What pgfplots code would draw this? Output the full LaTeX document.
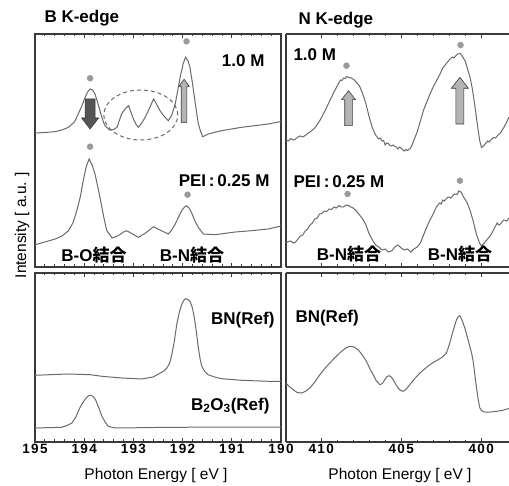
\documentclass[border=0pt]{standalone}
\usepackage{pgfplots}
\pgfplotsset{compat=1.18}
\usepackage{fontspec}
\setmainfont{Liberation Sans}
\newfontfamily\cjk{Noto Sans CJK JP}
\newfontfamily\tickfont[LetterSpace=10]{Liberation Sans}

\definecolor{curve}{HTML}{6A6A6A}
\definecolor{spine}{HTML}{3A3A3A}
\definecolor{dotc}{HTML}{9A9A9A}
\definecolor{darkarrow}{HTML}{555555}
\definecolor{lightarrow}{HTML}{B4B4B4}

\pgfplotsset{
  panel/.style={
    scale only axis, anchor=south west, x dir=reverse,
    ytick=\empty, ymin=0,
    axis line style={spine, line width=1.2pt},
    every tick/.style={spine, line width=0.8pt},
    major tick length=4pt, minor tick length=2.5pt, tick align=inside,
    xtick pos=both, xticklabel pos=lower,
    /pgf/number format/assume math mode=true,
    xticklabel style={font=\tickfont\fontsize{13.5}{15}\selectfont\bfseries, yshift=1pt},
    clip=true,
  },
  leftp/.style={panel, xmin=190, xmax=195, xtick={190,191,192,193,194,195}, minor x tick num=4, width=246pt},
  rightp/.style={panel, xmin=398.26, xmax=412.2, xtick={400,405,410}, minor x tick num=4, width=223pt,
    axis x line*=box, axis y line*=left},
  toprow/.style={height=233pt, ymax=233, xticklabels={}},
  botrow/.style={height=169pt, ymax=169},
  spec/.style={curve, line width=1pt, no marks},
  dots/.style={only marks, mark=*, mark size=3pt, dotc, mark options={draw=dotc, fill=dotc}},
}
\newcommand{\lab}{\fontsize{17}{20}\selectfont\bfseries}

\begin{document}
\begin{tikzpicture}
\path[use as bounding box] (0pt,0pt) rectangle (509pt,485pt);

% ---------- B K-edge, top ----------
\begin{axis}[leftp, toprow, at={(35pt,218pt)}]
\addplot[spec] coordinates {
(195.0,134) (194.8,134.5) (194.6,135.3) (194.45,137) (194.32,139.7) (194.2,145)
(194.12,153) (194.05,161) (193.98,169.7) (193.93,175) (193.88,178) (193.83,177)
(193.78,173) (193.73,165) (193.68,156.3) (193.63,148) (193.58,141.3) (193.48,137)
(193.40,137.5) (193.33,140) (193.24,153) (193.17,158) (193.10,161.3) (193.05,155)
(193.00,148) (192.95,143) (192.90,139.7) (192.83,144) (192.76,149.7) (192.68,158)
(192.59,168) (192.52,162) (192.46,156.3) (192.38,151) (192.29,146.3) (192.22,152)
(192.15,163) (192.10,176) (192.05,189.7) (191.99,203) (191.94,209.7) (191.89,206)
(191.85,199.7) (191.80,184) (191.75,166.3) (191.71,153) (191.68,143) (191.63,135)
(191.59,130.3) (191.48,133) (191.21,136.3) (190.80,139.7) (190.26,143) (190.0,145.5)
};
\addplot[spec] coordinates {
(195.0,22.3) (194.8,25) (194.59,28) (194.45,31) (194.32,36.3) (194.23,44)
(194.15,56.3) (194.08,70) (194.02,86.3) (193.96,100) (193.90,108) (193.84,102)
(193.78,93) (193.71,77) (193.64,59.7) (193.59,47) (193.54,36.3) (193.43,29)
(193.31,31.3) (193.20,35) (193.14,36.3) (193.04,33.7) (192.90,29.7) (192.76,33.7)
(192.65,38) (192.59,40.3) (192.50,38) (192.43,36.3) (192.29,33) (192.22,37)
(192.15,43) (192.08,50) (192.02,56.3) (191.96,60) (191.92,61.3) (191.87,59)
(191.82,54.7) (191.75,46) (191.68,39.7) (191.58,33) (191.34,32.3) (190.93,35)
(190.60,36.3) (190.26,38) (190.0,41)
};
\addplot[dots] coordinates {(193.88,188.7) (191.92,225.7) (193.88,120.3) (191.90,72.3)};
\draw[dash pattern=on 4pt off 3pt, curve, line width=1pt] (axis cs:192.85,152) ellipse [x radius=37pt, y radius=25pt];
\draw[fill=darkarrow, draw=spine, line width=0.6pt] (axis cs:193.88,168) ++(-5pt,0pt) -- ++(10pt,0pt) -- ++(0pt,-19pt) -- ++(3.5pt,0pt) -- ++(-8.5pt,-11pt) -- ++(-8.5pt,11pt) -- ++(3.5pt,0pt) -- cycle;
\draw[fill=lightarrow, draw=spine, line width=0.6pt] (axis cs:191.97,144.7) ++(-2.8pt,0pt) -- ++(5.6pt,0pt) -- ++(0pt,36pt) -- ++(2.4pt,0pt) -- ++(-5.2pt,7pt) -- ++(-5.2pt,-7pt) -- ++(2.4pt,0pt) -- cycle;
\end{axis}

% ---------- B K-edge, bottom ----------
\begin{axis}[leftp, botrow, at={(35pt,43pt)}]
\addplot[spec] coordinates {
(195.0,66.7) (194.6,67.5) (194.32,68) (193.88,67.3) (193.64,65.7) (193.24,64)
(192.83,63) (192.60,65) (192.49,68) (192.38,71) (192.32,74) (192.26,79)
(192.22,87.3) (192.17,100) (192.12,117.3) (192.07,129) (192.02,137.3) (191.97,142)
(191.94,143.3) (191.89,142.5) (191.85,140.7) (191.80,134) (191.76,124) (191.72,110)
(191.68,94) (191.64,82) (191.61,75.7) (191.55,70.5) (191.48,67.3) (191.35,65)
(191.21,63.3) (190.80,61.7) (190.26,60.7) (190.0,60.7)
};
\addplot[spec] coordinates {
(195.0,14) (194.46,14.7) (194.35,16.5) (194.25,19) (194.17,25) (194.09,34)
(194.02,40) (193.95,44.7) (193.90,46.5) (193.86,46.7) (193.82,45.5) (193.77,42.3)
(193.70,34) (193.64,25.7) (193.57,19.5) (193.51,15.7) (193.40,14.3) (193.31,14)
(192.29,14.7) (190.0,15)
};
\end{axis}

% ---------- N K-edge, top ----------
\begin{axis}[rightp, toprow, at={(286pt,218pt)}]
\addplot[spec] coordinates {
(412.2,127) (412.05,126) (411.9,128.5) (411.75,127) (411.6,128) (411.45,130) (411.3,131) (411.15,130)
(411.0,131.5) (410.85,133.5) (410.7,135)
(410.4,139) (410.1,146) (409.8,155) (409.5,165) (409.2,175) (409.0,181)
(408.8,187) (408.7,186.5) (408.6,189) (408.5,188.5) (408.4,190.5) (408.25,189.5) (408.1,189) (407.9,186.5) (407.6,181)
(407.4,173) (407.2,163) (407.0,150) (406.8,139) (406.6,132) (406.4,128)
(406.3,129) (406.2,126) (406.1,126.5) (406.0,122) (405.9,124) (405.8,123.5) (405.7,121.5) (405.6,121) (405.5,122) (405.4,120.5) (405.3,120) (405.2,118)
(405.1,120) (405.0,119) (404.9,117) (404.8,116) (404.7,117.5) (404.6,116.5) (404.4,119) (404.2,127) (404.0,135)
(403.8,146) (403.6,157) (403.4,165) (403.2,173) (403.0,180) (402.8,186)
(402.6,192) (402.4,199) (402.2,203) (402.0,207) (401.8,210) (401.7,209) (401.6,211)
(401.45,213) (401.3,213.5) (401.15,210) (401.0,206) (400.85,198) (400.7,190)
(400.55,178) (400.4,162) (400.25,144) (400.1,127) (399.98,119.5) (399.8,122)
(399.6,126) (399.5,125) (399.4,127) (399.3,128.5) (399.2,129.5) (399.1,129) (399.0,131) (398.8,134) (398.6,139)
(398.4,145) (398.26,150)
};
\addplot[spec] coordinates {
(412.2,24) (412.05,25.5) (411.9,26) (411.75,24) (411.6,25) (411.45,28) (411.3,31) (411.15,32) (411.0,36) (410.85,38) (410.7,42)
(410.55,44) (410.4,48) (410.25,49) (410.1,53) (409.95,53.5) (409.8,56) (409.65,55.5) (409.5,58) (409.35,57.5) (409.2,60) (409.05,59) (408.9,61.5)
(408.75,60) (408.6,60) (408.45,62) (408.3,61.5) (408.15,60) (408.0,59) (407.8,56) (407.6,52) (407.4,48)
(407.2,42) (407.0,33) (406.8,27) (406.6,22) (406.4,20) (406.2,17)
(406.0,18) (405.8,15) (405.6,16) (405.4,20) (405.2,22) (405.0,19)
(404.8,17) (404.6,18) (404.4,15) (404.2,18) (404.0,20) (403.8,24)
(403.6,32) (403.4,40) (403.2,47) (403.0,53) (402.8,60) (402.6,64)
(402.5,63) (402.4,67) (402.3,66) (402.2,68) (402.1,69.5) (402.0,70) (401.9,69) (401.8,71) (401.7,72.5) (401.6,73) (401.5,72.5) (401.4,76)
(401.25,75) (401.1,70) (400.9,65) (400.7,57) (400.5,46) (400.3,33)
(400.1,24) (399.98,21) (399.8,24) (399.6,28) (399.4,32) (399.2,38)
(399.1,41) (399.0,44) (398.9,42) (398.8,43) (398.6,47) (398.4,46) (398.26,49)
};
\addplot[dots] coordinates {(408.42,201.3) (401.29,222) (408.35,73) (401.33,86.3)};
\draw[fill=lightarrow, draw=spine, line width=0.6pt] (axis cs:408.29,141.3) ++(-3.8pt,0pt) -- ++(7.6pt,0pt) -- ++(0pt,26pt) -- ++(3.2pt,0pt) -- ++(-7pt,9pt) -- ++(-7pt,-9pt) -- ++(3.2pt,0pt) -- cycle;
\draw[fill=lightarrow, draw=spine, line width=0.6pt] (axis cs:401.33,143) ++(-4pt,0pt) -- ++(8pt,0pt) -- ++(0pt,35.7pt) -- ++(4.5pt,0pt) -- ++(-8.5pt,11pt) -- ++(-8.5pt,-11pt) -- ++(4.5pt,0pt) -- cycle;
\end{axis}

% ---------- N K-edge, bottom ----------
\begin{axis}[rightp, botrow, at={(286pt,43pt)}]
\addplot[spec] coordinates {
(412.2,59) (412.0,55.5) (411.75,52.3) (411.5,49.5) (411.23,49) (411.0,50.5)
(410.71,54) (410.4,60) (410.08,67.3) (409.75,74) (409.46,79) (409.1,85)
(408.73,90.7) (408.45,94) (408.21,95.7) (407.95,95) (407.69,92.3) (407.43,87)
(407.17,80.7) (406.95,73) (406.75,67.3) (406.55,61) (406.33,57.3) (406.18,58.5)
(406.02,62.3) (405.88,65.5) (405.75,66.3) (405.62,65) (405.5,62.3) (405.35,58)
(405.19,54) (405.03,51.5) (404.88,50.7) (404.7,52.5) (404.46,57.3) (404.15,63.5)
(403.83,69) (403.5,73.5) (403.21,77.3) (402.95,80) (402.69,82.3) (402.42,85)
(402.17,89) (402.0,97) (401.85,105.7) (401.7,114) (401.54,122.3) (401.43,125.5)
(401.33,126.3) (401.2,122) (401.02,114) (400.85,104) (400.71,95.7) (400.6,89)
(400.5,80.7) (400.4,68) (400.29,54) (400.18,42) (400.08,34) (399.95,31)
(399.77,30) (399.4,30) (399.04,30.7) (398.7,31.5) (398.26,33.5)
};
\end{axis}

% ---------- texts ----------
\node[anchor=west, font=\fontsize{17}{20}\selectfont\bfseries] at (41pt,467pt) {B K-edge};
\node[anchor=west, font=\fontsize{17}{20}\selectfont\bfseries] at (295pt,465pt) {N K-edge};

\node[anchor=east] at (268pt,424pt) {\lab 1.0 M};
\node[anchor=east] at (273pt,304pt) {\lab PEI\,:\,0.25 M};
\node at (94pt,230pt) {\lab B-O{\cjk\bfseries 結合}};
\node at (192pt,230pt) {\lab B-N{\cjk\bfseries 結合}};

\node[anchor=west] at (290pt,430pt) {\lab 1.0 M};
\node[anchor=west] at (290pt,303pt) {\lab PEI\,:\,0.25 M};
\node at (349pt,231pt) {\lab B-N{\cjk\bfseries 結合}};
\node at (460pt,231pt) {\lab B-N{\cjk\bfseries 結合}};

\node[anchor=east] at (278pt,165pt) {\lab BN(Ref)};
\node[anchor=east] at (273pt,79pt) {\lab B$_{\mathbf{2}}$O$_{\mathbf{3}}$(Ref)};
\node[anchor=west] at (292pt,167pt) {\lab BN(Ref)};

\node[font=\fontsize{15.5}{18}\selectfont] at (156pt,10pt) {Photon Energy [ eV ]};
\node[font=\fontsize{15.5}{18}\selectfont] at (400pt,10pt) {Photon Energy [ eV ]};
\node[rotate=90, font=\fontsize{15.5}{18}\selectfont] at (22pt,260pt) {Intensity [ a.u. ]};
\end{tikzpicture}
\end{document}
